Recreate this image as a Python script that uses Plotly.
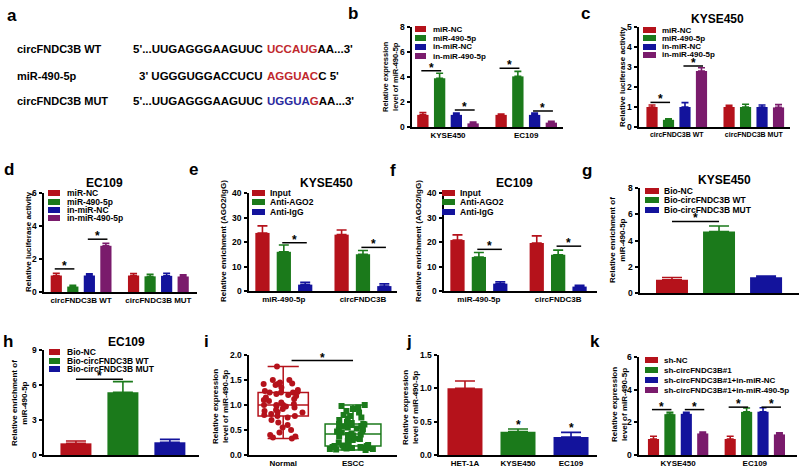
import plotly.graph_objects as go

W, H = 800, 469
RED = "#B5121B"
GREEN = "#1B7A1B"
BLUE = "#13139C"
PURPLE = "#7A1B6C"
SEQ_RED = "#C0282D"
SEQ_BLUE = "#2A2A9E"
FONT = "Liberation Sans, Arial, sans-serif"

# ---------------- data ----------------
# panel a
seq_labels = ["circFNDC3B WT", "miR-490-5p", "circFNDC3B MUT"]
seq_prefix = ["5'...UUGAGGGAAGUUC", "3' UGGGUGGACCUCU", "5'...UUGAGGGAAGUUC"]
seq_site = ["UCCAUG", "AGGUAC", "UGGUAG"]
seq_suffix = ["AA...3'", "C 5'", "AA...3'"]

# panel b
b_groups = ["KYSE450", "EC109"]
b_series = ["miR-NC", "miR-490-5p", "in-miR-NC", "in-miR-490-5p"]
b_vals = [[0.97, 0.97], [3.9, 4.05], [0.97, 0.97], [0.29, 0.35]]
b_errs = [[0.18, 0.06], [0.4, 0.4], [0.14, 0.14], [0.1, 0.1]]
b_sig = [(0, 0, 1, 4.5), (0, 2, 3, 1.36), (1, 0, 1, 4.7), (1, 2, 3, 1.28)]

# panel c
c_groups = ["circFNDC3B WT", "circFNDC3B MUT"]
c_series = ["miR-NC", "miR-490-5p", "in-miR-NC", "in-miR-490-5p"]
c_vals = [[1.0, 1.0], [0.36, 1.0], [1.0, 1.0], [2.8, 0.98]]
c_errs = [[0.1, 0.08], [0.05, 0.14], [0.22, 0.1], [0.16, 0.14]]
c_sig = [(0, 0, 1, 1.23), (0, 2, 3, 3.05)]

# panel d
d_groups = ["circFNDC3B WT", "circFNDC3B MUT"]
d_series = ["miR-NC", "miR-490-5p", "in-miR-NC", "in-miR-490-5p"]
d_vals = [[1.0, 1.0], [0.33, 0.95], [1.0, 0.98], [2.8, 0.94]]
d_errs = [[0.14, 0.12], [0.08, 0.13], [0.1, 0.15], [0.15, 0.1]]
d_sig = [(0, 0, 1, 1.4), (0, 2, 3, 3.2)]

# panel e
e_groups = ["miR-490-5p", "circFNDC3B"]
e_series = ["Input", "Anti-AGO2", "Anti-IgG"]
e_vals = [[23.7, 23.0], [16.0, 15.0], [2.6, 2.0]]
e_errs = [[2.9, 1.9], [2.8, 1.5], [0.9, 0.9]]
e_sig = [(0, 1, 2, 19.7), (1, 1, 2, 17.8)]

# panel f
f_groups = ["miR-490-5p", "circFNDC3B"]
f_series = ["Input", "Anti-AGO2", "Anti-IgG"]
f_vals = [[20.8, 19.6], [13.9, 14.8], [3.0, 1.8]]
f_errs = [[2.1, 2.9], [1.8, 1.9], [0.8, 0.5]]
f_sig = [(0, 1, 2, 17.0), (1, 1, 2, 18.3)]

# panel g
g_cats = ["Bio-NC", "Bio-circFNDC3B WT", "Bio-circFNDC3B MUT"]
g_vals = [1.0, 4.68, 1.2]
g_errs = [0.18, 0.42, 0.1]
g_sig = [(0, 1, 5.45)]

# panel h
h_cats = ["Bio-NC", "Bio-circFNDC3B WT", "Bio-circFNDC3B MUT"]
h_vals = [1.0, 5.37, 1.09]
h_errs = [0.2, 0.92, 0.25]
h_sig = [(0, 1, 6.5)]

# panel i
i_cats = ["Normal", "ESCC"]
i_normal = [0.33, 0.35, 0.37, 0.40, 0.45, 0.50, 0.55, 0.60, 0.65, 0.70,
            0.75, 0.78, 0.78, 0.80, 0.82, 0.85, 0.86, 0.88, 0.90, 0.92,
            0.95, 0.97, 0.98, 1.00, 1.00, 1.00, 1.02, 1.05, 1.08, 1.10,
            1.12, 1.15, 1.18, 1.20, 1.22, 1.25, 1.25, 1.25, 1.26, 1.28,
            1.30, 1.35, 1.40, 1.42, 1.42, 1.43, 1.45, 1.50, 1.50, 1.77]
i_escc = [0.10, 0.11, 0.12, 0.12, 0.13, 0.14, 0.14, 0.15, 0.15, 0.16,
          0.16, 0.17, 0.18, 0.18, 0.19, 0.20, 0.22, 0.25, 0.28, 0.30,
          0.32, 0.33, 0.35, 0.37, 0.39, 0.40, 0.41, 0.43, 0.45, 0.47,
          0.48, 0.50, 0.52, 0.53, 0.55, 0.57, 0.58, 0.60, 0.61, 0.62,
          0.62, 0.64, 0.66, 0.70, 0.72, 0.75, 0.78, 0.80, 0.85, 0.88,
          0.92, 0.95, 0.98, 1.00]
i_sig = 1.89

# panel j
j_cats = ["HET-1A", "KYSE450", "EC109"]
j_vals = [1.0, 0.35, 0.27]
j_errs = [0.11, 0.04, 0.07]
j_star = [False, True, True]

# panel k
k_groups = ["KYSE450", "EC109"]
k_series = ["sh-NC", "sh-circFNDC3B#1", "sh-circFNDC3B#1+in-miR-NC", "sh-circFNDC3B#1+in-miR-490-5p"]
k_vals = [[0.98, 0.98], [2.5, 2.64], [2.52, 2.65], [1.32, 1.26]]
k_errs = [[0.17, 0.17], [0.12, 0.24], [0.1, 0.24], [0.09, 0.1]]
k_sig = [(0, 0, 1, 2.78), (0, 2, 3, 2.78), (1, 0, 1, 2.93), (1, 2, 3, 2.93)]

# y tick labels per panel
y_ticks = {
    "b": ["0", "2", "4", "6", "8"],
    "c": ["0", "1", "2", "3", "4", "5"],
    "d": ["0", "2", "4", "6"],
    "e": ["0", "10", "20", "30", "40"],
    "f": ["0", "10", "20", "30", "40"],
    "g": ["0", "2", "4", "6", "8"],
    "h": ["0", "3", "6", "9"],
    "i": ["0.0", "0.5", "1.0", "1.5", "2.0"],
    "j": ["0.0", "0.5", "1.0", "1.5"],
    "k": ["0", "2", "4", "6"],
}

COL4 = [RED, GREEN, BLUE, PURPLE]
COL3 = [RED, GREEN, BLUE]

# ---------------- layout geometry (pixels) ----------------
# key: (x0, x1), (ytop, ybottom), xrange
panels = {
    "b": ((412, 563), (27, 127), (-0.46, 1.47)),
    "c": ((639, 790), (27, 127), (-0.49, 1.47)),
    "d": ((44, 197), (193, 292), (-0.48, 1.50)),
    "e": ((249, 397), (193, 291), (-0.44, 1.43)),
    "f": ((444, 597), (193, 291), (-0.44, 1.49)),
    "g": ((640, 799), (188, 293), (-0.68, 2.70)),
    "h": ((44, 199), (350, 455), (-0.68, 2.62)),
    "i": ((249, 397), (355, 455), (-0.49, 1.63)),
    "j": ((439, 597), (355, 455), (-0.49, 2.49)),
    "k": ((639, 797), (357, 455), (-0.51, 1.55)),
}
order = list(panels.keys())
axid = {k: ("" if n == 0 else str(n + 1)) for n, k in enumerate(order)}

fig = go.Figure()
annotations = []
shapes = []


def PX(x):
    return x / W


def PY(y):
    return 1 - y / H


def ax(k):
    return "x" + axid[k], "y" + axid[k]


def bar_pos(g, s, n, spacing):
    return g + (s - (n - 1) / 2) * spacing


def add_sig(k, x1, x2, yv):
    xa, ya = ax(k)
    fig.add_trace(go.Scatter(x=[x1, x2], y=[yv, yv], mode="lines",
                             line=dict(color="black", width=1.5),
                             xaxis=xa, yaxis=ya, showlegend=False, hoverinfo="skip"))
    annotations.append(dict(xref=xa, yref=ya, x=(x1 + x2) / 2, y=yv, text="*",
                            showarrow=False, xanchor="center", yanchor="bottom",
                            yshift=-6, font=dict(size=12, color="black")))


def grouped(k, groups, series, vals, errs, colors, spacing, width, capw, sig):
    xa, ya = ax(k)
    n = len(series)
    for s in range(n):
        xs = [bar_pos(g, s, n, spacing) for g in range(len(groups))]
        fig.add_trace(go.Bar(
            x=xs, y=vals[s], width=width, name=series[s],
            marker=dict(color=colors[s], line=dict(width=0)),
            error_y=dict(type="data", array=errs[s], arrayminus=[0] * len(groups),
                         symmetric=False, color=colors[s], thickness=1.6, width=capw),
            xaxis=xa, yaxis=ya, showlegend=False))
    for (g, s1, s2, yv) in sig:
        x1 = bar_pos(g, s1, n, spacing) - 0.02
        x2 = bar_pos(g, s2, n, spacing) + 0.02
        add_sig(k, x1, x2, yv)


def simple(k, cats, vals, errs, colors, width, capw):
    xa, ya = ax(k)
    for c in range(len(cats)):
        fig.add_trace(go.Bar(
            x=[c], y=[vals[c]], width=width, name=cats[c],
            marker=dict(color=colors[c], line=dict(width=0)),
            error_y=dict(type="data", array=[errs[c]], arrayminus=[0],
                         symmetric=False, color=colors[c], thickness=1.6, width=capw),
            xaxis=xa, yaxis=ya, showlegend=False))


def legend(xsw, sww, xtxt, ys, names, colors, size, swh=6):
    for yy, nm, cl in zip(ys, names, colors):
        shapes.append(dict(type="rect", xref="paper", yref="paper",
                           x0=PX(xsw), x1=PX(xsw + sww),
                           y0=PY(yy + swh / 2), y1=PY(yy - swh / 2),
                           fillcolor=cl, line=dict(width=0)))
        annotations.append(dict(xref="paper", yref="paper", x=PX(xtxt), y=PY(yy),
                                text=nm, showarrow=False, xanchor="left", yanchor="middle",
                                font=dict(size=size, color="black")))


def text(x, y, t, size, angle=0, anchor="center", color="black"):
    annotations.append(dict(xref="paper", yref="paper", x=PX(x), y=PY(y), text=t,
                            showarrow=False, xanchor=anchor, yanchor="middle",
                            textangle=angle, font=dict(size=size, color=color)))


# ---------------- panels ----------------
grouped("b", b_groups, b_series, b_vals, b_errs, COL4, 0.214, 0.145, 3.5, b_sig)
grouped("c", c_groups, c_series, c_vals, c_errs, COL4, 0.214, 0.145, 3.5, c_sig)
grouped("d", d_groups, d_series, d_vals, d_errs, COL4, 0.214, 0.145, 3.5, d_sig)
grouped("e", e_groups, e_series, e_vals, e_errs, COL3, 0.27, 0.18, 5, e_sig)
grouped("f", f_groups, f_series, f_vals, f_errs, COL3, 0.27, 0.18, 5, f_sig)
grouped("k", k_groups, k_series, k_vals, k_errs, COL4, 0.214, 0.145, 3.5, k_sig)

simple("g", g_cats, g_vals, g_errs, COL3, 0.68, 10)
for (a, b, yv) in g_sig:
    add_sig("g", a, b, yv)
simple("h", h_cats, h_vals, h_errs, COL3, 0.66, 10)
for (a, b, yv) in h_sig:
    add_sig("h", a, b, yv)
simple("j", j_cats, j_vals, j_errs, COL3, 0.66, 10)
xa, ya = ax("j")
for c in range(len(j_cats)):
    if j_star[c]:
        annotations.append(dict(xref=xa, yref=ya, x=c, y=j_vals[c] + j_errs[c], text="*",
                                showarrow=False, xanchor="center", yanchor="bottom",
                                yshift=-5, font=dict(size=12, color="black")))

xa, ya = ax("i")
fig.add_trace(go.Box(y=i_normal, x0=0, width=0.72, name=i_cats[0], boxpoints="all",
                     jitter=1, pointpos=0, whiskerwidth=0.62,
                     marker=dict(color=RED, size=6, symbol="circle"),
                     line=dict(color=RED, width=1.5), fillcolor="rgba(255,255,255,0)",
                     xaxis=xa, yaxis=ya, showlegend=False))
fig.add_trace(go.Box(y=i_escc, x0=1, width=0.8, name=i_cats[1], boxpoints="all",
                     jitter=1, pointpos=0, whiskerwidth=0.5,
                     marker=dict(color=GREEN, size=6, symbol="square"),
                     line=dict(color=GREEN, width=1.5), fillcolor="rgba(255,255,255,0)",
                     xaxis=xa, yaxis=ya, showlegend=False))
add_sig("i", 0.12, 1.0, i_sig)

# ---------------- axes ----------------
tick_labels = {
    "b": b_groups, "c": c_groups, "d": d_groups, "e": e_groups, "f": f_groups,
    "g": None, "h": None, "i": i_cats, "j": j_cats, "k": k_groups,
}
tick_size = {"b": 8, "c": 7, "d": 8, "e": 8, "f": 8, "g": 8, "h": 8, "i": 8, "j": 8, "k": 8}
lay = {}
for n, k in enumerate(order):
    (x0, x1), (yt, yb), xr = panels[k]
    suf = "" if n == 0 else str(n + 1)
    labels = tick_labels[k]
    xdict = dict(domain=[PX(x0), PX(x1)], range=list(xr), anchor="y" + suf, type="linear",
                 showline=True, linecolor="black", linewidth=1.5, ticks="",
                 showgrid=False, zeroline=False, fixedrange=True, automargin=False,
                 tickfont=dict(size=tick_size[k], color="black"))
    if labels:
        xdict.update(tickmode="array", tickvals=list(range(len(labels))), ticktext=labels)
    else:
        xdict.update(showticklabels=False)
    yt_labels = y_ticks[k]
    yt_vals = [float(v) for v in yt_labels]
    ydict = dict(domain=[PY(yb), PY(yt)], range=[yt_vals[0], yt_vals[-1]], anchor="x" + suf,
                 type="linear", showline=True, linecolor="black", linewidth=1.5,
                 ticks="outside", ticklen=3, tickwidth=1.5, tickcolor="black",
                 tickmode="array", tickvals=yt_vals, showticklabels=False,
                 automargin=False, showgrid=False, zeroline=False, fixedrange=True)
    lay["xaxis" + suf] = xdict
    lay["yaxis" + suf] = ydict
    # y tick labels placed on the axis' own scale
    for v, lab in zip(yt_vals, yt_labels):
        annotations.append(dict(xref="x" + suf + " domain", x=0, yref="y" + suf, y=v,
                                text=lab, showarrow=False, xanchor="right",
                                yanchor="middle", xshift=-5,
                                font=dict(size=8.5, color="black")))

# ---------------- legends ----------------
legend(415, 11, 431, [29, 38, 47, 56], b_series, COL4, 8)
legend(643, 13, 660, [30, 38, 47, 55], c_series, COL4, 8)
legend(48, 12, 65, [193, 202, 210, 218], d_series, COL4, 8.5)
legend(252, 13, 268, [193, 202, 212], e_series, COL3, 8.5)
legend(442, 13, 458, [193, 202, 212], f_series, COL3, 8.5)
legend(645, 14, 662, [191, 200, 210], g_cats, COL3, 8.5)
legend(49, 11, 65, [352, 361, 369], h_cats, COL3, 8.5)
legend(645, 13, 662, [360, 370, 380, 390], k_series, COL4, 8)

# ---------------- titles ----------------
text(717, 19, "KYSE450", 12)
text(104, 183, "EC109", 12)
text(326, 183, "KYSE450", 12)
text(514, 183, "EC109", 12)
text(724, 180, "KYSE450", 12)
text(126, 342, "EC109", 12)

# y-axis titles
text(390, 77, "Relative expression<br>level of miR-490-5p", 7.5, -90)
text(622, 77, "Relative luciferase activity", 8, -90)
text(28, 242, "Relative luciferase activity", 8, -90)
text(224, 241, "Relative enrichment (AGO2/IgG)", 8, -90)
text(419, 241, "Relative enrichment (AGO2/IgG)", 8, -90)
text(617, 240, "Relative enrichment of<br>miR-490-5p", 8, -90)
text(19, 403, "Relative enrichment of<br>miR-490-5p", 8, -90)
text(220, 407, "Relative expression<br>level of miR-490-5p", 8, -90)
text(410, 407, "Relative expression<br>level of miR-490-5p", 8, -90)
text(619, 405, "Relative expression<br>level of miR-490-5p", 8, -90)

# panel letters
for lt, (x, y) in {"a": (12, 16), "b": (353, 13), "c": (585, 14), "d": (9, 169),
                   "e": (193, 169), "f": (393, 170), "g": (587, 170), "h": (8, 341),
                   "i": (206, 341), "j": (409, 341), "k": (595, 341)}.items():
    text(x, y, lt, 17)

# panel a sequences
seq_y = [49, 76, 101]
SITE_X = 265
for r in range(3):
    text(15, seq_y[r], seq_labels[r], 11, anchor="left")
    annotations.append(dict(xref="paper", yref="paper", x=PX(SITE_X), y=PY(seq_y[r]),
                            text=seq_prefix[r], showarrow=False, xanchor="right",
                            yanchor="middle", font=dict(size=11.5, color="black")))
    site = seq_site[r]
    if r == 2:
        site_html = (f'<span style="color:{SEQ_BLUE}">{site[:-1]}</span>'
                     f'<span style="color:{SEQ_RED}">{site[-1]}</span>')
    else:
        site_html = f'<span style="color:{SEQ_RED}">{site}</span>'
    annotations.append(dict(xref="paper", yref="paper", x=PX(SITE_X), y=PY(seq_y[r]),
                            text=site_html + seq_suffix[r], showarrow=False,
                            xanchor="left", yanchor="middle",
                            font=dict(size=11.5, color="black")))

fig.update_layout(
    width=W, height=H, margin=dict(l=0, r=0, t=0, b=0, autoexpand=False),
    paper_bgcolor="white", plot_bgcolor="white",
    font=dict(family=FONT, weight="bold", color="black"),
    barmode="overlay", showlegend=False,
    annotations=annotations, shapes=shapes, **lay)

fig.write_html("out.html", config={"displayModeBar": False},
               post_script="document.body.style.margin='0px';document.body.style.overflow='hidden';")
